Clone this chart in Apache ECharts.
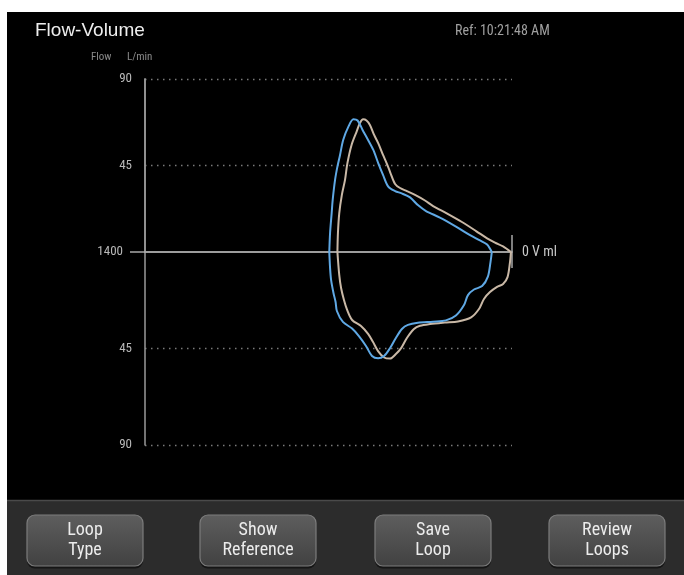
<!DOCTYPE html>
<html>
<head>
<meta charset="utf-8">
<script src="https://cdn.jsdelivr.net/npm/echarts@6/dist/echarts.min.js"></script>
<style>
html,body{margin:0;padding:0;background:#fff;}
#chart{width:684px;height:575px;}
</style>
</head>
<body>
<div id="chart"></div>
<script>
// ---- data ----
const volumeMax = 1400;          // ml, left end of volume axis
const flowMax = 90;              // L/min
const flowInterval = 45;
// current loop (blue): expiratory limb (upper) and inspiratory limb (lower)
const blueExpVol  = [697,694,688,684,675,666,656,644,624,605,589,570,549,529,510,492,472,446,421,389,359,328,275,217,160,122,95,77];
const blueExpFlow = [0,9.9,20.1,27.1,37.5,44.4,50.5,58.3,65.2,69.0,68.4,63.5,58.3,53.1,46.1,40.1,34.0,31.7,30.5,28.4,24.4,21.3,17.9,13.5,8.8,6.0,3.9,0];
const blueInsVol  = [77,82,92,114,145,168,183,214,252,301,359,397,420,443,465,488,511,534,557,584,610,645,668,673,681,690,694,697];
const blueInsFlow = [0,-4.7,-11.5,-15.9,-17.5,-20.1,-24.7,-29.6,-31.9,-32.5,-33.0,-34.0,-35.9,-40.1,-44.8,-48.5,-49.6,-48.5,-43.8,-39.2,-35.7,-32.6,-27.5,-23.3,-19.1,-13.1,-7.5,0];
// reference loop (tan)
const refExpVol  = [666,664,659,649,637,628,612,592,580,568,555,542,526,510,492,478,465,446,427,401,370,332,301,249,191,137,95,65,34,4];
const refExpFlow = [0,9.9,20.1,29.7,37.5,46.1,55.7,62.9,67.1,69.0,68.4,66.1,60.9,56.5,50.5,46.1,41.6,35.4,33.3,31.7,29.7,26.8,23.9,20.1,15.6,10.9,7.1,4.9,2.9,0];
const refInsVol  = [4,8,17,34,57,84,107,126,156,206,256,313,351,374,401,423,443,465,488,511,530,549,576,610,629,641,652,659,666];
const refInsFlow = [0,-5.1,-11.7,-14.9,-16.3,-18.7,-21.9,-26.6,-30.5,-32.4,-32.9,-33.6,-34.4,-35.9,-40.1,-44.8,-47.6,-49.7,-49.2,-46.2,-42.0,-38.2,-34.5,-31.7,-27.0,-22.4,-16.8,-10.7,0];
const buttonLabels = [['Loop','Type'],['Show','Reference'],['Save','Loop'],['Review','Loops']];
const titleText = 'Flow-Volume';
const refText = 'Ref: 10:21:48 AM';

// ---- styling ----
const NARROW = "'Liberation Sans Narrow','Roboto Condensed','Roboto','Liberation Sans',sans-serif";
const zip = (a,b) => a.map((v,i)=>[v,b[i]]);
const axisGray = '#9a9a9a';
const dotted = {color:'#7a7a7a', width:1.3, type:[1.5,4.5]};

const chart = echarts.init(document.getElementById('chart'), null, {renderer:'canvas'});

const commonX = {
  type:'value', min:0, max:volumeMax, inverse:true,
  axisLabel:{show:false}, splitLine:{show:false},
  axisLine:{show:true, onZero:false, lineStyle:{color:'#a8a8a8', width:1.5}},
  axisTick:{show:true, inside:true, customValues:[0], lineStyle:{color:'#a8a8a8', width:1.5}}
};

const buttonsGraphic = [];
buttonLabels.forEach((lbl,i)=>{
  const cx = [85,258,433,607][i];
  const x0 = cx-58, y0 = 515;
  buttonsGraphic.push(
    {type:'rect', z:100, shape:{x:x0,y:y0+1.5,width:116,height:52,r:8}, style:{fill:'#151515'}},
    {type:'rect', z:101, shape:{x:x0,y:y0,width:116,height:51,r:8},
     style:{fill:new echarts.graphic.LinearGradient(0,0,0,1,[{offset:0,color:'#5e5e5e'},{offset:1,color:'#414141'}]),
            stroke:'#7c7c7c', lineWidth:1.2}},
    {type:'text', z:102, x:cx, y:y0+25.5, style:{text:lbl.join('\n'), fill:'#ececec', font:'18px '+NARROW,
            align:'center', verticalAlign:'middle', lineHeight:20}}
  );
});

const option = {
  backgroundColor:'#000',
  animation:false,
  title:[
    {text:titleText, left:35, top:21, padding:0, textStyle:{color:'#eeeeee', fontSize:19, fontWeight:'normal', fontFamily:"'Liberation Sans',Arial,sans-serif"}},
    {text:refText, left:455, top:24, padding:0, textStyle:{color:'#a0a0a0', fontSize:14, fontWeight:'normal', fontFamily:NARROW}},
    {text:'Flow', left:91, top:52, padding:0, textStyle:{color:'#8a8a8a', fontSize:11, fontWeight:'normal', fontFamily:NARROW}},
    {text:'L/min', left:127, top:52, padding:0, textStyle:{color:'#8a8a8a', fontSize:11, fontWeight:'normal', fontFamily:NARROW}}
  ],
  grid:[
    {left:145, right:172, top:79, height:173},
    {left:145, right:172, top:252, height:193}
  ],
  xAxis:[
    Object.assign({}, commonX, {gridIndex:0, position:'bottom',
      axisTick:Object.assign({}, commonX.axisTick, {length:17}),
      name:'0 V ml', nameLocation:'start', nameGap:10,
      nameTextStyle:{color:'#c8c8c8', fontSize:14, fontFamily:NARROW, verticalAlign:'middle'}}),
    Object.assign({}, commonX, {gridIndex:1, position:'top',
      axisTick:Object.assign({}, commonX.axisTick, {length:16})})
  ],
  yAxis:[
    {gridIndex:0, type:'value', min:0, max:flowMax, interval:flowInterval, position:'left',
     axisLine:{show:true, onZero:false, lineStyle:{color:axisGray, width:1.5}},
     axisTick:{show:false},
     axisLabel:{color:'#b8b8b8', fontSize:13, fontFamily:NARROW, margin:13,
       formatter:v => v===0 ? '{z|'+volumeMax+'}' : String(v),
       rich:{z:{color:'#b8b8b8', fontSize:13, fontFamily:NARROW, padding:[0,9,0,0]}}},
     splitLine:{show:true, showMinLine:false, lineStyle:dotted}},
    {gridIndex:1, type:'value', min:-flowMax, max:0, interval:flowInterval, position:'left',
     axisLine:{show:true, onZero:false, lineStyle:{color:axisGray, width:1.5}},
     axisTick:{show:false},
     axisLabel:{color:'#b8b8b8', fontSize:13, fontFamily:NARROW, margin:13,
       formatter:v => v===0 ? '' : String(Math.abs(v))},
     splitLine:{show:true, showMaxLine:false, lineStyle:dotted}},
    // helper axis: only the zero-flow tick extending left of the flow axis
    {gridIndex:0, type:'value', min:0, max:flowMax, position:'left',
     axisLine:{show:true, onZero:false, lineStyle:{color:axisGray, width:1.5}},
     axisLabel:{show:false}, splitLine:{show:false},
     axisTick:{show:true, customValues:[0], length:15, lineStyle:{color:'#a8a8a8', width:1.5}}}
  ],
  series:[
    {type:'line', name:'Reference exp', xAxisIndex:0, yAxisIndex:0, data:zip(refExpVol,refExpFlow),
     showSymbol:false, smooth:0.3, clip:false, lineStyle:{color:'#c9b8a6', width:2}, z:3},
    {type:'line', name:'Reference ins', xAxisIndex:1, yAxisIndex:1, data:zip(refInsVol,refInsFlow),
     showSymbol:false, smooth:0.3, clip:false, lineStyle:{color:'#c9b8a6', width:2}, z:3},
    {type:'line', name:'Current exp', xAxisIndex:0, yAxisIndex:0, data:zip(blueExpVol,blueExpFlow),
     showSymbol:false, smooth:0.3, clip:false, lineStyle:{color:'#5fa8e4', width:2}, z:4},
    {type:'line', name:'Current ins', xAxisIndex:1, yAxisIndex:1, data:zip(blueInsVol,blueInsFlow),
     showSymbol:false, smooth:0.3, clip:false, lineStyle:{color:'#5fa8e4', width:2}, z:4}
  ],
  graphic:[
    {type:'rect', z:90, shape:{x:7,y:500,width:677,height:75}, style:{fill:'#2c2c2c'}},
    {type:'line', z:91, shape:{x1:7,y1:500.5,x2:684,y2:500.5}, style:{stroke:'#4a4a4a', lineWidth:1.5}},
    ...buttonsGraphic,
    {type:'rect', z:200, shape:{x:0,y:0,width:684,height:12}, style:{fill:'#ffffff'}},
    {type:'rect', z:200, shape:{x:0,y:0,width:7,height:575}, style:{fill:'#ffffff'}}
  ]
};
chart.setOption(option);
</script>
</body>
</html>
